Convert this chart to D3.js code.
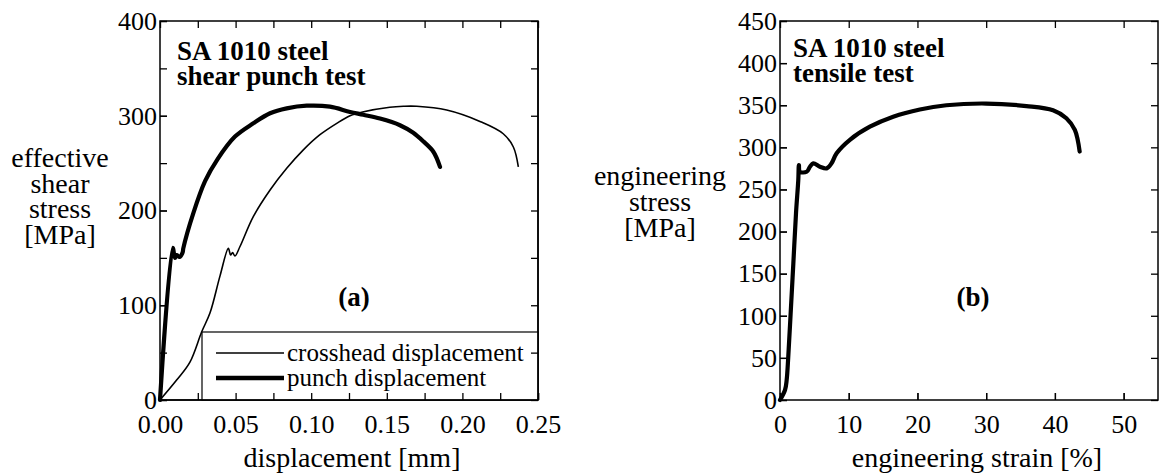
<!DOCTYPE html>
<html>
<head>
<meta charset="utf-8">
<script src="https://cdn.jsdelivr.net/npm/d3@7"></script>
<style>
  body { margin: 0; background: #fff; }
  svg { display: block; font-family: "Liberation Serif", "Times New Roman", serif; }
  svg text { font-family: "Liberation Serif", "Times New Roman", serif; fill: #000; }
  .axis path { display: none; }
  .axis line { stroke: #000; stroke-width: 1.3; }
  .axis text { font-size: 26px; }
</style>
</head>
<body>
<div class="chart"></div>
<script>
/* panel (a): shear punch test, [displacement mm, stress MPa] */
var crossheadDisp = [0, 0.011, 0.0198, 0.0276, 0.0331, 0.0397, 0.0452, 0.0467, 0.048, 0.0496, 0.0529,
  0.0617, 0.0728, 0.0838, 0.0948, 0.1058, 0.1169, 0.1257, 0.134, 0.152, 0.161, 0.1698, 0.1896, 0.2116,
  0.227, 0.2337, 0.237];
var crossheadStress = [0, 21, 40, 72, 92, 131, 160, 153, 155.5, 152, 162,
  193.5, 221.6, 244.5, 264, 280, 292, 300, 304, 309, 310, 310, 306, 294,
  281, 267, 246];

var punchDisp = [0, 0.0084, 0.0099, 0.011, 0.013, 0.015, 0.0154, 0.022, 0.0298, 0.038, 0.0496, 0.0617,
  0.0728, 0.0838, 0.097, 0.1124, 0.1257, 0.1345, 0.1455, 0.1587, 0.1675, 0.1741, 0.1808, 0.1852];
var punchStress = [0, 160.7, 150, 153, 151, 156, 160, 197, 231, 254, 278, 292,
  302.6, 307.8, 310.6, 309.6, 304, 301, 297, 290, 282, 273, 262, 246];

/* panel (b): tensile test, [strain %, stress MPa] */
var tensileStrain = [0, 0.73, 0.97, 1.2, 1.55, 1.94, 2.33, 2.66, 2.75, 2.9, 3.88, 4.36, 4.84, 5.81, 6.79,
  7.5, 8.24, 10.17, 13.08, 16.47, 20.35, 24.2, 30, 35.86, 39.73, 41.67, 42.9, 43.6];
var tensileStress = [0, 11.9, 23.7, 51, 103, 162, 222, 261, 279, 271, 271, 277, 281, 277, 275,
  281, 293, 309, 324.5, 336.4, 345, 350, 352, 349, 344, 334.5, 320.6, 295];

var dispTickLabels = [0, 0.05, 0.1, 0.15, 0.2, 0.25];
var shearTickLabels = [0, 100, 200, 300, 400];
var strainTickLabels = [0, 10, 20, 30, 40, 50];
var tensileTickLabels = [0, 50, 100, 150, 200, 250, 300, 350, 400, 450];

var svg = d3.select("div.chart").append("svg")
  .attr("width", 1159).attr("height", 474);

function zip(xs, ys) {
  return xs.map(function (v, i) { return [v, ys[i]]; });
}

function drawFrame(x, y, xMajor, xMinor, yMajor, yMinor, xFmt) {
  var x0 = x.range()[0], x1 = x.range()[1];
  var y0 = y.range()[0], y1 = y.range()[1];
  var g = svg.append("g");

  g.append("g").attr("class", "axis").attr("transform", "translate(0," + y0 + ")")
    .call(d3.axisBottom(x).tickValues(xMinor).tickSize(-7).tickFormat(""));
  g.append("g").attr("class", "axis").attr("transform", "translate(0," + y0 + ")")
    .call(d3.axisBottom(x).tickValues(xMajor).tickSize(-7).tickPadding(15).tickFormat(xFmt));
  g.append("g").attr("class", "axis").attr("transform", "translate(0," + y1 + ")")
    .call(d3.axisTop(x).tickValues(xMinor).tickSize(-7).tickFormat(""));

  g.append("g").attr("class", "axis").attr("transform", "translate(" + x0 + ",0)")
    .call(d3.axisLeft(y).tickValues(yMinor).tickSize(-7).tickFormat(""));
  g.append("g").attr("class", "axis").attr("transform", "translate(" + x0 + ",0)")
    .call(d3.axisLeft(y).tickValues(yMajor).tickSize(-7).tickPadding(3).tickFormat(d3.format("d")));
  g.append("g").attr("class", "axis").attr("transform", "translate(" + x1 + ",0)")
    .call(d3.axisRight(y).tickValues(yMinor).tickSize(-7).tickFormat(""));

  g.append("rect")
    .attr("x", x0).attr("y", y1)
    .attr("width", x1 - x0).attr("height", y0 - y1)
    .attr("fill", "none").attr("stroke", "#000").attr("stroke-width", 1.5);
}

function centeredLines(lines, cx, firstBaseline, step) {
  var t = svg.append("text")
    .attr("text-anchor", "middle")
    .attr("font-size", 28);
  lines.forEach(function (s, i) {
    t.append("tspan").attr("x", cx).attr("y", firstBaseline + i * step).text(s);
  });
}

function boldLines(lines, x, firstBaseline, step) {
  var t = svg.append("text").attr("font-size", 27).attr("font-weight", "bold");
  lines.forEach(function (s, i) {
    t.append("tspan").attr("x", x).attr("y", firstBaseline + i * step).text(s);
  });
}

/* ---------- panel (a) ---------- */
var xa = d3.scaleLinear().domain([0, 0.25]).range([160, 538]);
var ya = d3.scaleLinear().domain([0, 400]).range([400, 21]);
var lineA = d3.line().x(function (d) { return xa(d[0]); }).y(function (d) { return ya(d[1]); })
  .curve(d3.curveCatmullRom.alpha(0.5));

drawFrame(xa, ya, dispTickLabels, d3.range(0, 0.2501, 0.025), shearTickLabels, d3.range(0, 401, 50),
  d3.format(".2f"));

svg.append("path").datum(zip(crossheadDisp, crossheadStress))
  .attr("d", lineA).attr("fill", "none").attr("stroke", "#000").attr("stroke-width", 1.6)
  .attr("stroke-linejoin", "round");
svg.append("path").datum(zip(punchDisp, punchStress))
  .attr("d", lineA).attr("fill", "none").attr("stroke", "#000").attr("stroke-width", 4.2)
  .attr("stroke-linejoin", "round").attr("stroke-linecap", "round");

/* legend box */
var legend = svg.append("g");
legend.append("rect").attr("x", 202).attr("y", 332).attr("width", 336).attr("height", 68)
  .attr("fill", "#fff").attr("stroke", "#000").attr("stroke-width", 1.2);
[["crosshead displacement", 1.6, 353], ["punch displacement", 4.5, 378]].forEach(function (e) {
  legend.append("line").attr("x1", 216).attr("x2", 284).attr("y1", e[2]).attr("y2", e[2])
    .attr("stroke", "#000").attr("stroke-width", e[1]);
  legend.append("text").attr("x", 287).attr("y", e[2] + 8).attr("font-size", 25).text(e[0]);
});
/* redraw the ticks hidden by the legend box */
svg.append("g").attr("class", "axis").attr("transform", "translate(0,400)")
  .call(d3.axisBottom(xa).tickValues(d3.range(0.05, 0.2501, 0.025)).tickSize(-7).tickFormat(""));
svg.append("g").attr("class", "axis").attr("transform", "translate(538,0)")
  .call(d3.axisRight(ya).tickValues([50]).tickSize(-7).tickFormat(""));
svg.append("line").attr("x1", 160).attr("x2", 538).attr("y1", 400).attr("y2", 400)
  .attr("stroke", "#000").attr("stroke-width", 1.5);
svg.append("line").attr("x1", 538).attr("x2", 538).attr("y1", 21).attr("y2", 400)
  .attr("stroke", "#000").attr("stroke-width", 1.5);

boldLines(["SA 1010 steel", "shear punch test"], 177, 60, 25);
svg.append("text").attr("x", 354).attr("y", 306).attr("text-anchor", "middle")
  .attr("font-size", 27).attr("font-weight", "bold").text("(a)");
centeredLines(["effective", "shear", "stress", "[MPa]"], 60, 167, 25.5);
centeredLines(["displacement [mm]"], 352, 467, 0);

/* ---------- panel (b) ---------- */
var xb = d3.scaleLinear().domain([0, 55]).range([780, 1158]);
var yb = d3.scaleLinear().domain([0, 450]).range([400, 21]);
var lineB = d3.line().x(function (d) { return xb(d[0]); }).y(function (d) { return yb(d[1]); })
  .curve(d3.curveCatmullRom.alpha(0.5));

drawFrame(xb, yb, strainTickLabels, strainTickLabels, tensileTickLabels, tensileTickLabels, d3.format("d"));

svg.append("path").datum(zip(tensileStrain, tensileStress))
  .attr("d", lineB).attr("fill", "none").attr("stroke", "#000").attr("stroke-width", 4.2)
  .attr("stroke-linejoin", "round").attr("stroke-linecap", "round");

boldLines(["SA 1010 steel", "tensile test"], 793, 57, 25);
svg.append("text").attr("x", 973).attr("y", 306).attr("text-anchor", "middle")
  .attr("font-size", 27).attr("font-weight", "bold").text("(b)");
centeredLines(["engineering", "stress", "[MPa]"], 660, 185, 26);
centeredLines(["engineering strain [%]"], 977, 467, 0);
</script>
</body>
</html>
